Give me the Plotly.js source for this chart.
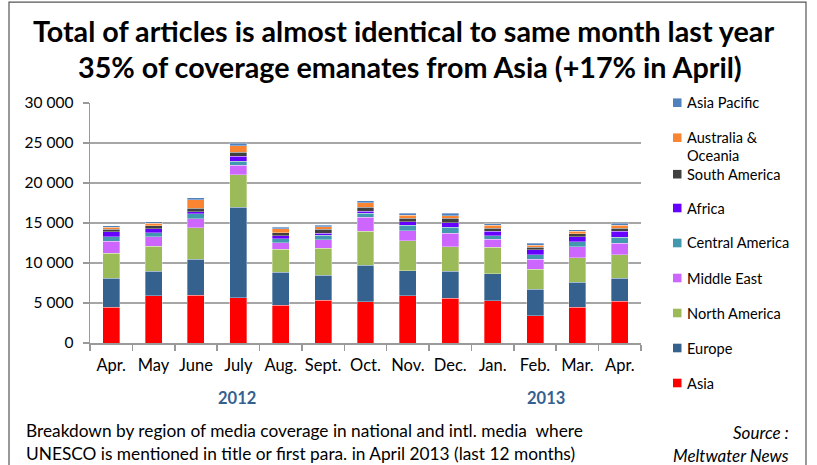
<!DOCTYPE html>
<html>
<head>
<meta charset="utf-8">
<script src="https://cdn.plot.ly/plotly-3.0.1.min.js"></script>
<style>html,body{margin:0;padding:0;background:#fff;}#chart{width:817px;height:465px;}</style>
</head>
<body>
<div id="chart"></div>
<script>
var months = ["Apr.", "May", "June", "July", "Aug.", "Sept.", "Oct.", "Nov.", "Dec.", "Jan.", "Feb.", "Mar.", "Apr. "];
var monthLabels = ["Apr.", "May", "June", "July", "Aug.", "Sept.", "Oct.", "Nov.", "Dec.", "Jan.", "Feb.", "Mar.", "Apr."];

var asia           = [4500, 5900, 6000, 5670, 4710, 5330, 5170, 5920, 5580, 5290, 3380, 4500, 5250];
var europe         = [3600, 3100, 4460, 11290, 4120, 3130, 4540, 3120, 3380, 3380, 3330, 3080, 2830];
var northAmerica   = [3100, 3100, 3960, 4080, 2920, 3370, 4250, 3750, 3080, 3330, 2540, 3050, 2960];
var middleEast     = [1550, 1200, 1120, 1210, 790, 1050, 1750, 1250, 1710, 960, 1250, 1380, 1420];
var centralAmerica = [550, 460, 590, 500, 500, 620, 540, 710, 750, 460, 540, 670, 750];
var africa         = [580, 500, 300, 620, 380, 250, 250, 380, 540, 580, 590, 580, 750];
var southAmerica   = [330, 380, 410, 460, 370, 460, 460, 450, 540, 330, 330, 380, 410];
var australia      = [250, 330, 1090, 840, 500, 330, 580, 420, 340, 380, 290, 330, 380];
var asiaPacific    = [200, 170, 200, 330, 170, 210, 250, 250, 330, 170, 250, 210, 250];

var seriesNames  = ["Asia", "Europe", "North America", "Middle East", "Central America", "Africa", "South America", "Australia &<br>Oceania", "Asia Pacific"];
var seriesValues = [asia, europe, northAmerica, middleEast, centralAmerica, africa, southAmerica, australia, asiaPacific];
var seriesColors = ["#FF0000", "#35618F", "#9BBB59", "#CC66FF", "#4198AF", "#6600FF", "#404040", "#F98533", "#4F81BD"];

var FONT = "Lato, 'Liberation Sans', sans-serif";

var traces = seriesNames.map(function (n, i) {
  return {
    type: "bar", name: n, x: months, y: seriesValues[i],
    marker: { color: seriesColors[i], line: { color: "rgba(255,255,255,0.55)", width: 0.6 } },
    showlegend: false, hoverinfo: "name+y"
  };
});

// plot area in pixels
var L = 90, R = 641, T = 103.3, B = 343.3;
function px(x) { return (x - L) / (R - L); }
function py(y) { return (B - y) / (B - T); }

var annotations = [];
var shapes = [];

// title lines
annotations.push({ xref: "paper", yref: "paper", x: px(403), y: py(31), xanchor: "center", yanchor: "middle", showarrow: false,
  text: "<b>Total of articles is almost identical to same month last year</b>", font: { family: FONT, size: 28.7, color: "#000" } });
annotations.push({ xref: "paper", yref: "paper", x: px(410), y: py(67), xanchor: "center", yanchor: "middle", showarrow: false,
  text: "<b>35% of coverage emanates from Asia (+17% in April)</b>", font: { family: FONT, size: 28.7, color: "#000" } });

// year labels
annotations.push({ xref: "paper", yref: "paper", x: px(237), y: py(398), xanchor: "center", yanchor: "middle", showarrow: false,
  text: "<b>2012</b>", font: { family: FONT, size: 16.5, color: "#35618F" } });
annotations.push({ xref: "paper", yref: "paper", x: px(546), y: py(398), xanchor: "center", yanchor: "middle", showarrow: false,
  text: "<b>2013</b>", font: { family: FONT, size: 16.5, color: "#35618F" } });

// footnotes
annotations.push({ xref: "paper", yref: "paper", x: px(24), y: py(431), xanchor: "left", yanchor: "middle", showarrow: false,
  text: "Breakdown by region of media coverage in national and intl. media  where", font: { family: FONT, size: 17.3, color: "#000" } });
annotations.push({ xref: "paper", yref: "paper", x: px(24), y: py(454), xanchor: "left", yanchor: "middle", showarrow: false,
  text: "UNESCO is mentioned in title or first para. in April 2013 (last 12 months)", font: { family: FONT, size: 17.3, color: "#000" } });
annotations.push({ xref: "paper", yref: "paper", x: px(791), y: py(433), xanchor: "right", yanchor: "middle", showarrow: false,
  text: "<i>Source :</i>", font: { family: FONT, size: 17, color: "#000" } });
annotations.push({ xref: "paper", yref: "paper", x: px(791), y: py(456), xanchor: "right", yanchor: "middle", showarrow: false,
  text: "<i>Meltwater News</i>", font: { family: FONT, size: 17, color: "#000" } });

// custom legend (top to bottom: reverse of stacking)
var legendY = [383.3, 348.3, 313.3, 278.3, 243.3, 208.3, 174.5, 138, 103];
seriesNames.forEach(function (n, i) {
  var cy = legendY[i];
  shapes.push({ type: "rect", xref: "paper", yref: "paper", x0: px(673), x1: px(681.5), y0: py(cy - 4.3), y1: py(cy + 4.3),
    fillcolor: seriesColors[i], line: { width: 0 } });
  if (i === 7) {
    annotations.push({ xref: "paper", yref: "paper", x: px(685), y: py(cy), xanchor: "left", yanchor: "middle", showarrow: false,
      text: "Australia &", font: { family: FONT, size: 14.6, color: "#000" } });
    annotations.push({ xref: "paper", yref: "paper", x: px(685), y: py(155.5), xanchor: "left", yanchor: "middle", showarrow: false,
      text: "Oceania", font: { family: FONT, size: 14.6, color: "#000" } });
  } else {
    annotations.push({ xref: "paper", yref: "paper", x: px(685), y: py(cy), xanchor: "left", yanchor: "middle", showarrow: false,
      text: n, font: { family: FONT, size: 14.6, color: "#000" } });
  }
});

// outer frame
shapes.push({ type: "rect", xref: "paper", yref: "paper", x0: px(9), x1: px(806), y0: py(2.5), y1: py(475),
  line: { color: "#555", width: 1.2 }, fillcolor: "rgba(0,0,0,0)", layer: "below" });

var layout = {
  width: 817, height: 465,
  margin: { l: L, r: 817 - R, t: T, b: 465 - B },
  paper_bgcolor: "#fff", plot_bgcolor: "#fff",
  barmode: "stack", bargap: 0.6,
  separators: ". ",
  font: { family: FONT, size: 15, color: "#000" },
  xaxis: {
    type: "category", tickvals: months, ticktext: monthLabels, tickangle: 0,
    showline: true, linecolor: "#999", linewidth: 1.5,
    ticks: "outside", tickson: "boundaries", ticklen: 6, tickcolor: "#999", tickwidth: 1.5,
    ticklabelstandoff: 7,
    tickfont: { family: FONT, size: 16.5, color: "#000" },
    showgrid: false, fixedrange: true
  },
  yaxis: {
    range: [0, 30000], dtick: 5000, tickformat: ",d",
    showline: true, linecolor: "#999", linewidth: 1.5,
    ticks: "outside", ticklen: 6, tickcolor: "#999", tickwidth: 1.5,
    ticklabelstandoff: 6,
    showgrid: true, gridcolor: "#A6A6A6", gridwidth: 1.3,
    zeroline: false,
    tickfont: { family: FONT, size: 15.5, color: "#000" },
    fixedrange: true
  },
  annotations: annotations,
  shapes: shapes,
  showlegend: false
};

Plotly.newPlot("chart", traces, layout, { displayModeBar: false, staticPlot: true });
</script>
</body>
</html>
